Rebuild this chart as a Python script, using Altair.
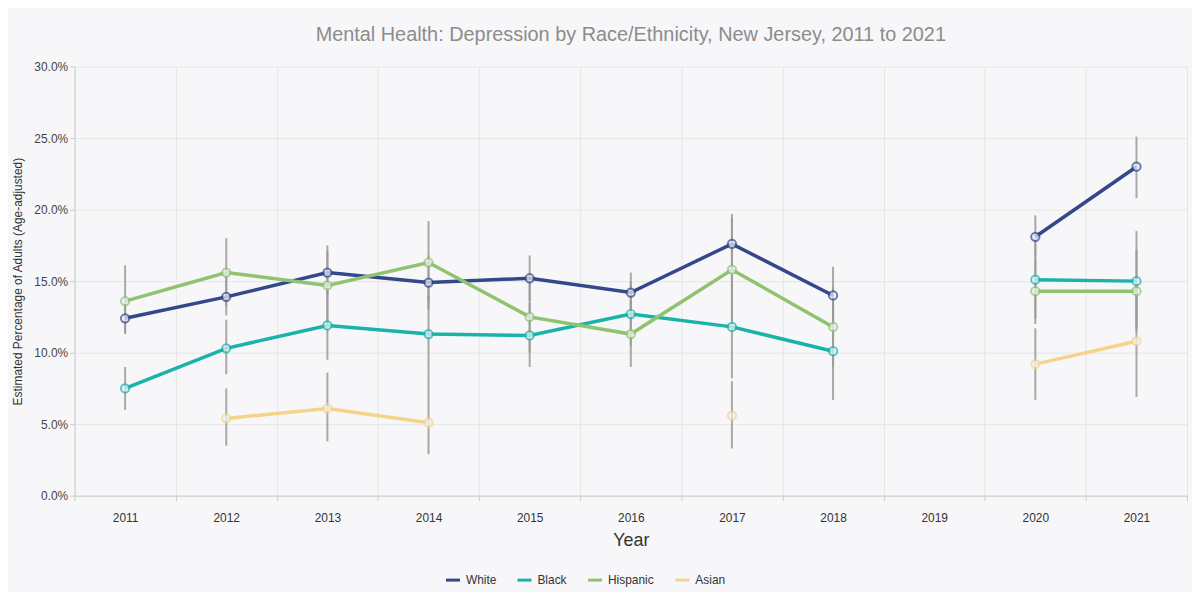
import altair as alt
import pandas as pd

years = ["2011", "2012", "2013", "2014", "2015", "2016", "2017", "2018", "2019", "2020", "2021"]
groups = ["White", "Black", "Hispanic", "Asian"]
colors = ["#34478a", "#19b3a9", "#8fc36f", "#f5d48a"]

white = [12.4, 13.9, 15.6, 14.9, 15.2, 14.2, 17.6, 14.0, None, 18.1, 23.0]
white_lo = [11.4, 12.6, 14.0, 13.0, 13.6, 12.8, 15.6, 12.0, None, 16.7, 20.8]
white_hi = [13.5, 15.3, 17.1, 16.8, 16.8, 15.6, 19.7, 16.0, None, 19.6, 25.1]

black = [7.5, 10.3, 11.9, 11.3, 11.2, 12.7, 11.8, 10.1, None, 15.1, 15.0]
black_lo = [6.0, 8.5, 9.5, 8.5, 9.0, 10.5, 8.2, 6.7, None, 12.4, 11.8]
black_hi = [9.0, 12.3, 14.3, 14.0, 13.5, 15.0, 15.4, 13.5, None, 17.8, 18.5]

hispanic = [13.6, 15.6, 14.7, 16.3, 12.5, 11.3, 15.8, 11.8, None, 14.3, 14.3]
hispanic_lo = [11.3, 13.2, 12.0, 13.5, 10.0, 9.0, 12.2, 9.0, None, 12.0, 11.5]
hispanic_hi = [16.1, 18.0, 17.5, 19.2, 15.0, 13.6, 19.4, 14.6, None, 16.6, 17.2]

asian = [None, 5.4, 6.1, 5.1, None, None, 5.6, None, None, 9.2, 10.8]
asian_lo = [None, 3.5, 3.8, 2.9, None, None, 3.3, None, None, 6.7, 6.9]
asian_hi = [None, 7.5, 8.6, 8.5, None, None, 8.0, None, None, 11.7, 14.8]

series = {
    "White": (white, white_lo, white_hi),
    "Black": (black, black_lo, black_hi),
    "Hispanic": (hispanic, hispanic_lo, hispanic_hi),
    "Asian": (asian, asian_lo, asian_hi),
}

rows = []
for g in groups:
    v, lo, hi = series[g]
    for i, y in enumerate(years):
        rows.append({"Year": y, "Group": g, "Value": v[i], "Lo": lo[i], "Hi": hi[i]})
df = pd.DataFrame(rows)

FONT = "Liberation Sans"

x_enc = alt.X("Year:O", scale=alt.Scale(domain=years, paddingInner=0, paddingOuter=0),
              axis=alt.Axis(title="Year", labelAngle=0, tickBand="extent", grid=True,
                            titleFontSize=18, titleFontWeight="normal", titleColor="#333333",
                            labelFontSize=12, labelColor="#333333", labelPadding=12,
                            titlePadding=8, domainColor="#cccccc", tickColor="#cccccc",
                            gridColor="#e6e6e6"))
y_scale = alt.Scale(domain=[0, 30], nice=False)
y_axis = alt.Axis(title="Estimated Percentage of Adults (Age-adjusted)",
                  values=[0, 5, 10, 15, 20, 25, 30], labelOverlap=False,
                  labelExpr="format(datum.value, '.1f') + '%'",
                  labelFontSize=12, labelColor="#444444", titleFontSize=12,
                  titleFontWeight="normal", titleColor="#333333", titleX=-50,
                  domain=True, domainColor="#cccccc", tickColor="#cccccc", gridColor="#e6e6e6")
color_enc = alt.Color("Group:N", scale=alt.Scale(domain=groups, range=colors),
                      legend=alt.Legend(title=None, orient="none", direction="horizontal",
                                        legendX=372, legendY=508, symbolType="stroke",
                                        symbolStrokeWidth=3, symbolSize=200,
                                        labelFontSize=12, labelColor="#333333",
                                        columnPadding=14))

base = alt.Chart(df)

rules = base.mark_rule(color="#9a9a9a", strokeWidth=2, opacity=0.85).encode(
    x=x_enc,
    y=alt.Y("Lo:Q", scale=y_scale, axis=y_axis),
    y2="Hi:Q",
)

lines = base.mark_line(strokeWidth=3.5, invalid="break-paths-show-domains").encode(
    x=x_enc,
    y=alt.Y("Value:Q", scale=y_scale, axis=y_axis),
    color=color_enc,
    order=alt.Order("Year:O"),
)

points = base.mark_point(shape="circle", size=70, filled=True, strokeWidth=2,
                         fill="#eef2fa").encode(
    x=x_enc,
    y=alt.Y("Value:Q", scale=y_scale, axis=y_axis),
    stroke=alt.Stroke("Group:N", scale=alt.Scale(domain=groups, range=colors), legend=None),
).transform_filter("isValid(datum.Value)")

chart = alt.layer(rules, lines, points).properties(
    width=1120, height=432,
    autosize=alt.AutoSizeParams(type="none"),
    padding={"left": 67, "top": 57, "right": 5, "bottom": 95},
    background="#f7f7f9",
    title=alt.Title("Mental Health: Depression by Race/Ethnicity, New Jersey, 2011 to 2021",
                    fontSize=20, font=FONT, fontWeight="normal", color="#8c8c8c",
                    anchor="middle", offset=16),
).configure(font=FONT).configure_view(stroke=None)

chart.save("out.html", embed_options={"renderer": "svg", "actions": False})
